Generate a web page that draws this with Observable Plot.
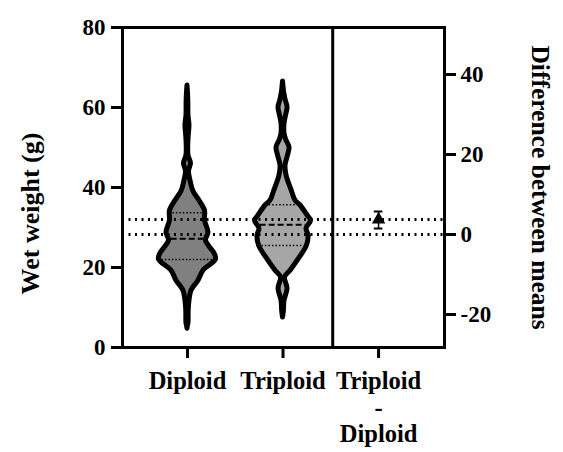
<!DOCTYPE html>
<html>
<head>
<meta charset="utf-8">
<script src="https://cdn.jsdelivr.net/npm/d3@7"></script>
<script src="https://cdn.jsdelivr.net/npm/@observablehq/plot@0.6"></script>
<style>
  html, body { margin: 0; padding: 0; background: white; }
</style>
</head>
<body>
<div id="chart"></div>
<script>
// ---- data ----
const groups = ["Diploid", "Triploid"];
const xTickLabels = ["Diploid", "Triploid", "Triploid\n-\nDiploid"];
const yTicks = [0, 20, 40, 60, 80];
const diffTicks = [-20, 0, 20, 40];

// violin density profiles (value, relative density)
const diploidValues  = [4.7, 5.5, 6, 9.2, 11.7, 14.2, 16.7, 19.2, 22, 23.5, 26.7, 28.7, 31.7, 34.2, 36.7, 39, 41.7, 44, 46, 48, 52, 55.5, 58, 62, 65.5];
const diploidDensity = [0, 0.5, 1, 1.2, 2, 4, 11, 16, 28.5, 27, 18.5, 21, 17.5, 17.5, 12, 6, 3, 1.5, 3.5, 1, 1, 2, 1, 0.8, 0];
const triploidValues  = [7.5, 9, 11.7, 14.7, 17.5, 19.2, 22.2, 25.5, 28, 29.7, 31.7, 33, 35.5, 36.7, 39, 43, 45.5, 48, 50, 52, 53.5, 56, 58, 60, 62, 64, 66.5];
const triploidDensity = [0, 0.8, 1.5, 4.5, 2, 7.5, 16, 24, 25.5, 23.5, 28, 24.5, 17.5, 12.5, 9, 3.5, 2.5, 5, 6.5, 3, 1.5, 1.5, 3, 4.5, 2.5, 1, 0];

// quartiles [lower, median, upper]
const diploidQuartiles  = [22, 27.2, 33.7];
const triploidQuartiles = [25.5, 30.7, 35.7];

// means and difference
const diploidMean = 28.25;
const triploidMean = 32.0;
const meanDiff = 3.75;
const diffCI = [1.5, 5.75];

// ---- build ----
const xPos = [1, 2, 3];
const dividerX = 2.52;
const k = 1 / 95.5; // density -> x units
const fills = ["#808080", "#a6a6a6"];

function violin(values, dens, center) {
  return values.map((v, i) => ({y: v, x1: center - dens[i] * k, x2: center + dens[i] * k}));
}
function widthAt(values, dens, v) {
  for (let i = 0; i < values.length - 1; i++) {
    if (v >= values[i] && v <= values[i + 1]) {
      const t = (v - values[i]) / (values[i + 1] - values[i]);
      return dens[i] + t * (dens[i + 1] - dens[i]);
    }
  }
  return 0;
}
function quartileRows(values, dens, q, center) {
  return q.map((v, i) => {
    const w = widthAt(values, dens, v) * k;
    return {y: v, x1: center - w, x2: center + w, kind: i === 1 ? "median" : "quart"};
  });
}

const vD = violin(diploidValues, diploidDensity, xPos[0]);
const vT = violin(triploidValues, triploidDensity, xPos[1]);
const qD = quartileRows(diploidValues, diploidDensity, diploidQuartiles, xPos[0]);
const qT = quartileRows(triploidValues, triploidDensity, triploidQuartiles, xPos[1]);
const quarts = [...qD, ...qT];

const offset = diploidMean;
const capHalf = 0.045;

const chart = Plot.plot({
  width: 563,
  height: 452,
  marginLeft: 122,
  marginRight: 119,
  marginTop: 27,
  marginBottom: 105,
  x: {domain: [0.32, 3.69]},
  y: {domain: [0, 80]},
  style: {fontFamily: "'Liberation Serif', 'Times New Roman', serif", fontWeight: "bold", fontSize: "22px", color: "black", background: "white"},
  marks: [
    Plot.areaX(vD, {y: "y", x1: "x1", x2: "x2", fill: fills[0], stroke: "black", strokeWidth: 5, strokeLinejoin: "round", curve: "catmull-rom"}),
    Plot.areaX(vT, {y: "y", x1: "x1", x2: "x2", fill: fills[1], stroke: "black", strokeWidth: 5, strokeLinejoin: "round", curve: "catmull-rom"}),
    Plot.ruleY(quarts.filter(d => d.kind === "quart"), {y: "y", x1: d => d.x1 + 0.03, x2: d => d.x2 - 0.03, stroke: "black", strokeWidth: 1.5, strokeDasharray: "1.5,2"}),
    Plot.ruleY(quarts.filter(d => d.kind === "median"), {y: "y", x1: d => d.x1 + 0.03, x2: d => d.x2 - 0.03, stroke: "black", strokeWidth: 2, strokeDasharray: "6,3"}),
    Plot.ruleY([diploidMean, triploidMean], {stroke: "black", strokeWidth: 3, strokeDasharray: "2,4.5"}),
    Plot.ruleX([{x: xPos[2], y1: offset + diffCI[0], y2: offset + diffCI[1]}], {x: "x", y1: "y1", y2: "y2", stroke: "black", strokeWidth: 1.5}),
    Plot.ruleY(diffCI.map(c => ({y: offset + c})), {y: "y", x1: xPos[2] - capHalf, x2: xPos[2] + capHalf, stroke: "black", strokeWidth: 2}),
    Plot.dot([{x: xPos[2], y: offset + meanDiff}], {x: "x", y: "y", symbol: "triangle", r: 5, fill: "black"}),
    Plot.ruleX([dividerX], {stroke: "black", strokeWidth: 3}),
    Plot.frame({stroke: "black", strokeWidth: 3}),
    Plot.axisY({ticks: yTicks, tickSize: 11, tickPadding: 6, strokeWidth: 3, label: null, fontSize: 23}),
    Plot.axisY({anchor: "right", ticks: diffTicks.map(d => d + offset), tickFormat: v => String(Math.round(v - offset)), tickSize: 11, tickPadding: 5, strokeWidth: 3, label: null, fontSize: 23}),
    Plot.axisX({ticks: xPos, tickFormat: (d, i) => xTickLabels[i], tickSize: 11, tickPadding: 12, strokeWidth: 3, label: null, fontSize: 24.5, lineHeight: 1.08}),
    Plot.text(["Wet weight (g)"], {frameAnchor: "left", textAnchor: "middle", dx: -92, dy: 26, rotate: -90, fontSize: 26, fontWeight: "bold"}),
    Plot.text(["Difference between means"], {frameAnchor: "right", textAnchor: "middle", dx: 96, dy: 0, rotate: 90, fontSize: 25.5, fontWeight: "bold"})
  ]
});
document.getElementById("chart").appendChild(chart);
</script>
</body>
</html>
